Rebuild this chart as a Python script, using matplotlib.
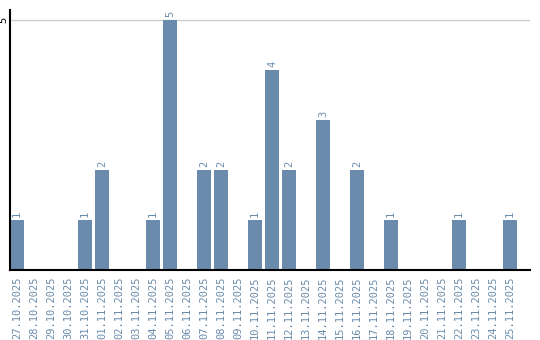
import matplotlib
matplotlib.use("Agg")
import matplotlib.pyplot as plt

# daily counts
dates = ["27.10.2025", "28.10.2025", "29.10.2025", "30.10.2025", "31.10.2025",
         "01.11.2025", "02.11.2025", "03.11.2025", "04.11.2025", "05.11.2025",
         "06.11.2025", "07.11.2025", "08.11.2025", "09.11.2025", "10.11.2025",
         "11.11.2025", "12.11.2025", "13.11.2025", "14.11.2025", "15.11.2025",
         "16.11.2025", "17.11.2025", "18.11.2025", "19.11.2025", "20.11.2025",
         "21.11.2025", "22.11.2025", "23.11.2025", "24.11.2025", "25.11.2025"]
counts = [1, 0, 0, 0, 1, 2, 0, 0, 1, 5, 0, 2, 2, 0, 1,
          4, 2, 0, 3, 0, 2, 0, 1, 0, 0, 0, 1, 0, 0, 1]
y_ticks = [5]

bar_color = "#6a8bab"
text_color = "#6a8bab"
mono = "DejaVu Sans Mono"

fig = plt.figure(figsize=(5.4, 3.4), dpi=100)
ax = fig.add_axes([10 / 540, 70 / 340, 520 / 540, 260 / 340])

x = list(range(len(dates)))
bars = ax.bar(x, counts, width=14 / 17, color=bar_color, zorder=2)

# value labels above non-empty bars
for xi, c in zip(x, counts):
    if c > 0:
        ax.annotate(str(c), (xi, c), xytext=(0, 2), textcoords="offset points",
                    ha="center", va="bottom", rotation=90,
                    color=text_color, fontsize=7.5, family=mono)

ax.set_xlim(-7 / 17, -7 / 17 + 520 / 17)
ax.set_ylim(0, 5.2)

ax.set_xticks(x)
ax.set_xticklabels(dates, rotation=90, color=text_color, fontsize=7.5, family=mono)
ax.tick_params(axis="x", length=0, pad=5)

ax.set_yticks(y_ticks)
ax.set_yticklabels([str(v) for v in y_ticks], rotation=90, va="center",
                   fontsize=7.5, family=mono)
ax.tick_params(axis="y", length=0, pad=1)
ax.yaxis.grid(True, color="#cccccc", linewidth=1, zorder=0)
ax.set_axisbelow(True)

for side in ["top", "right"]:
    ax.spines[side].set_visible(False)
for side in ["left", "bottom"]:
    ax.spines[side].set_linewidth(1.5)
    ax.spines[side].set_color("black")

fig.savefig("out.png", dpi=100)
